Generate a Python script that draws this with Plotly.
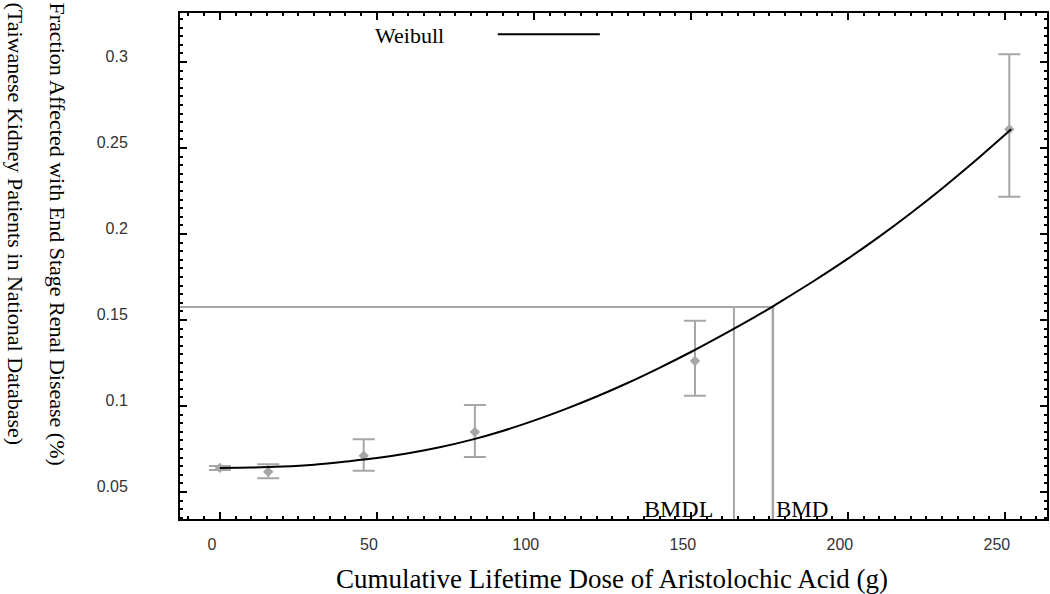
import plotly.graph_objects as go

# Observed data (dose in g, fraction affected, CI bounds)
dose = [0, 15.4, 45.8, 81.2, 151.3, 251.4]
frac = [0.0640, 0.0618, 0.0711, 0.0849, 0.1262, 0.2609]
ci_low = [0.0628, 0.0580, 0.0624, 0.0703, 0.1060, 0.2217]
ci_high = [0.0651, 0.0661, 0.0806, 0.1006, 0.1496, 0.3045]

# Fitted Weibull curve
curve_x = [0, 10, 20, 30, 40, 50, 60, 70, 80, 90, 100, 110, 120, 130, 140,
           150, 160, 170, 176, 180, 190, 200, 210, 220, 230, 240, 252]
curve_y = [0.0640, 0.0642, 0.0648, 0.0659, 0.0677, 0.0697, 0.0725, 0.0760,
           0.0803, 0.0855, 0.0915, 0.0982, 0.1055, 0.1135, 0.1222, 0.1314,
           0.1412, 0.1514, 0.1578, 0.1623, 0.1737, 0.1857, 0.1985, 0.2121,
           0.2265, 0.2417, 0.2609]

bmr_level = 0.1576
bmd = 176.1
bmdl = 163.7

x_range = [-12.7, 263.4]
y_range = [0.0343, 0.3285]

grey = '#a6a6a6'
serif = 'Liberation Serif, Times New Roman, serif'

fig = go.Figure()

# BMR reference lines
fig.add_trace(go.Scatter(x=[x_range[0], bmd], y=[bmr_level, bmr_level], mode='lines',
                         line=dict(color=grey, width=2), showlegend=False, hoverinfo='skip'))
fig.add_trace(go.Scatter(x=[bmdl, bmdl], y=[y_range[0], bmr_level], mode='lines',
                         line=dict(color=grey, width=2), showlegend=False, hoverinfo='skip'))
fig.add_trace(go.Scatter(x=[bmd, bmd], y=[y_range[0], bmr_level], mode='lines',
                         line=dict(color=grey, width=2.5), showlegend=False, hoverinfo='skip'))

# Data with error bars
fig.add_trace(go.Scatter(
    x=dose, y=frac, mode='markers',
    marker=dict(symbol='diamond', size=8, color=grey),
    error_y=dict(type='data', symmetric=False,
                 array=[h - f for h, f in zip(ci_high, frac)],
                 arrayminus=[f - l for f, l in zip(frac, ci_low)],
                 color=grey, thickness=2, width=11),
    showlegend=False))

# Weibull fit
fig.add_trace(go.Scatter(x=curve_x, y=curve_y, mode='lines', name='Weibull',
                         line=dict(color='black', width=2, shape='spline', smoothing=0.8),
                         showlegend=False))

axis_common = dict(showline=True, linecolor='black', linewidth=2, mirror='allticks',
                   ticks='inside', ticklen=7, tickwidth=2, tickcolor='black',
                   showgrid=False, zeroline=False, automargin=False,
                   tickfont=dict(family='Liberation Sans, Arial', size=16, color='#333'))

fig.update_layout(
    width=1050, height=594,
    margin=dict(l=180, r=3, t=13, b=75),
    paper_bgcolor='white', plot_bgcolor='white',
    xaxis=dict(range=x_range, tickvals=[0, 50, 100, 150, 200, 250],
               minor=dict(dtick=5, tick0=0, ticks='inside', ticklen=3, tickwidth=2, tickcolor='black'),
               ticklabelstandoff=10, ticklabelshift=-8,
               **axis_common),
    yaxis=dict(range=y_range, tickvals=[0.05, 0.1, 0.15, 0.2, 0.25, 0.3],
               ticktext=['0.05', '0.1', '0.15', '0.2', '0.25', '0.3'],
               minor=dict(dtick=0.005, tick0=0, ticks='inside', ticklen=3, tickwidth=2, tickcolor='black'),
               ticklabelstandoff=47, ticklabelshift=-6,
               **axis_common),
    annotations=[
        dict(text='Cumulative Lifetime Dose of Aristolochic Acid (g)',
             xref='paper', yref='paper', x=(612 - 180) / 867, y=(519 - 579) / 506,
             xanchor='center', yanchor='middle', showarrow=False,
             font=dict(family=serif, size=27, color='black')),
        dict(text='Fraction Affected with End Stage Renal Disease (%)', textangle=90,
             xref='paper', yref='paper', x=(57 - 180) / 867, y=1 + 13 / 506,
             xanchor='center', yanchor='top', showarrow=False,
             font=dict(family=serif, size=22, color='black')),
        dict(text='(Taiwanese Kidney Patients in National Database)', textangle=90,
             xref='paper', yref='paper', x=(15 - 180) / 867, y=1 + 13 / 506,
             xanchor='center', yanchor='top', showarrow=False,
             font=dict(family=serif, size=22, color='black')),
        dict(text='Weibull', xref='x', yref='paper', x=60.5, y=0.955,
             xanchor='center', yanchor='middle', showarrow=False,
             font=dict(family=serif, size=22, color='black')),
        dict(text='BMDL', xref='x', yref='paper', x=bmdl - 6, y=0,
             xanchor='right', yanchor='bottom', yshift=-5, showarrow=False,
             font=dict(family=serif, size=24, color='black')),
        dict(text='BMD', xref='x', yref='paper', x=bmd + 0.5, y=0,
             xanchor='left', yanchor='bottom', yshift=-5, showarrow=False,
             font=dict(family=serif, size=23, color='black')),
    ],
    shapes=[dict(type='line', xref='x', yref='paper', x0=88.5, x1=121, y0=0.958, y1=0.958,
                 line=dict(color='black', width=2))],
)

# drop the default page margin so the figure sits at the window origin
fig.write_html('out.html', config={'displayModeBar': False},
               post_script="document.body.style.margin='0';")
